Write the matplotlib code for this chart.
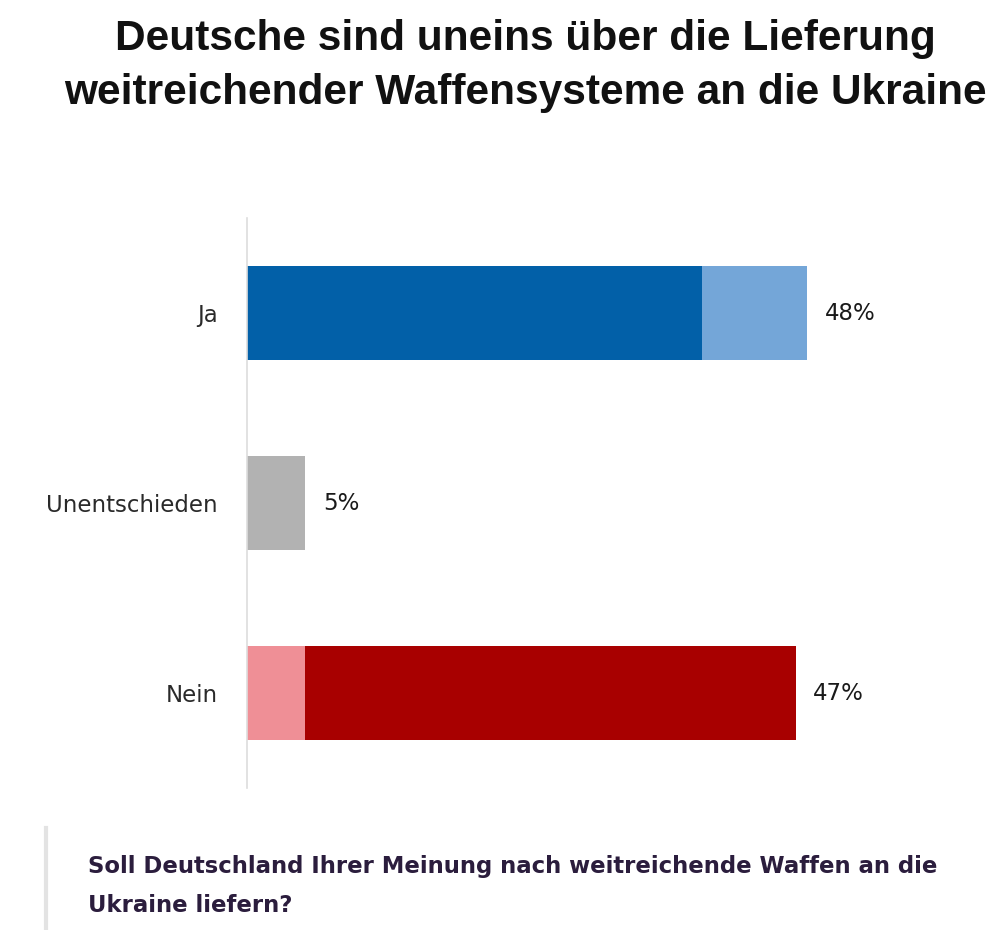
import matplotlib
matplotlib.use("Agg")
import matplotlib.pyplot as plt
from matplotlib.lines import Line2D

# data
categories = ["Ja", "Unentschieden", "Nein"]
main_values = [39, 5, 42]      # dark segment ("voll und ganz" / neutral)
extra_values = [9, 0, 5]       # light segment ("eher")
totals = [48, 5, 47]
value_labels = ["48%", "5%", "47%"]

title = "Deutsche sind uneins über die Lieferung\nweitreichender Waffensysteme an die Ukraine"
question = "Soll Deutschland Ihrer Meinung nach weitreichende Waffen an die\nUkraine liefern?"

fig = plt.figure(figsize=(10, 9.3), dpi=100)
fig.patch.set_facecolor("white")

# axes placed so that 1 % is about 11.7 px
ax = fig.add_axes([0.247, 1 - 788 / 930, 0.642, 570 / 930])
ypos = list(range(len(categories)))
bar_h = 0.49

# Ja: dark blue then light blue
ax.barh(ypos[0], main_values[0], height=bar_h, color="#0260a8", left=0)
ax.barh(ypos[0], extra_values[0], height=bar_h, color="#74a6d8",
        left=main_values[0])
# Unentschieden
ax.barh(ypos[1], main_values[1], height=bar_h, color="#b2b2b2", left=0)
# Nein: light red then dark red
ax.barh(ypos[2], extra_values[2], height=bar_h, color="#ef8f96", left=0)
ax.barh(ypos[2], main_values[2], height=bar_h, color="#a80000",
        left=extra_values[2])

for y, t, lab in zip(ypos, totals, value_labels):
    ax.text(t + 1.5, y, lab, va="center", ha="left", fontsize=16.5,
            family="DejaVu Sans", color="#1a1a1a")

ax.set_xlim(0, 55)
ax.set_ylim(2.5, -0.5)
ax.set_yticks(ypos)
ax.set_yticklabels(categories, fontsize=16.5, family="DejaVu Sans",
                   color="#2a2a2a")
ax.tick_params(axis="y", length=0, pad=21)
ax.set_xticks([])
for side in ["top", "right", "bottom"]:
    ax.spines[side].set_visible(False)
ax.spines["left"].set_color("#dddddd")
ax.spines["left"].set_linewidth(1.2)

fig.text(0.525, 1 - 66 / 930, title, ha="center", va="center",
         fontsize=30.5, fontweight="bold", family="Liberation Sans",
         linespacing=1.47, color="#111111")

# question box with grey bar on the left
fig.add_artist(Line2D([0.046, 0.046], [0, 1 - 828 / 930],
                      color="#e3e3e3", lw=3))
fig.text(0.088, 1 - 886 / 930, question, ha="left", va="center",
         fontsize=16.4, fontweight="bold", family="DejaVu Sans",
         linespacing=1.9, color="#2b1d3d")

fig.savefig("out.png", dpi=100, facecolor="white")
